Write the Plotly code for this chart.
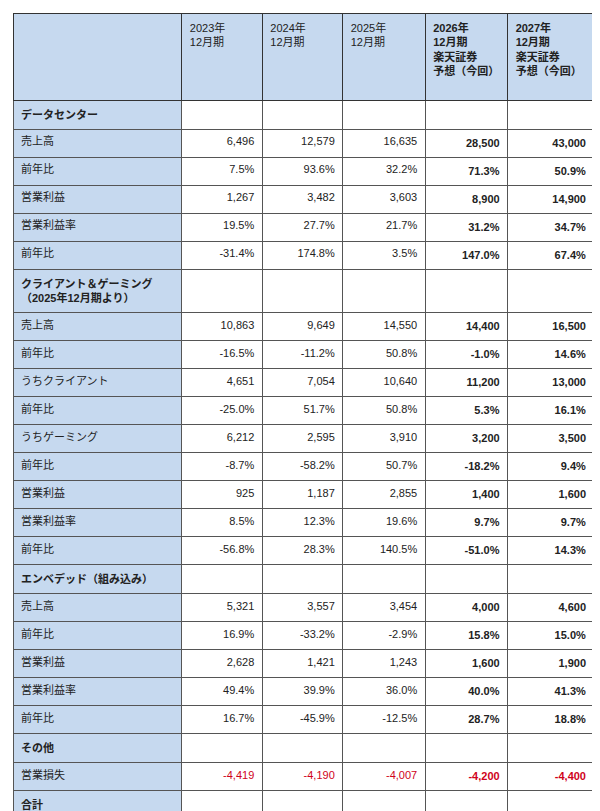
import plotly.graph_objects as go

headers = ["", "2023年<br>12月期", "2024年<br>12月期", "2025年<br>12月期",
           "<b>2026年<br>12月期<br>楽天証券<br>予想（今回）</b>", "<b>2027年<br>12月期<br>楽天証券<br>予想（今回）</b>"]

labels = ["データセンター", "売上高", "前年比", "営業利益", "営業利益率", "前年比",
          "クライアント＆ゲーミング<br>（2025年12月期より）", "売上高", "前年比", "うちクライアント", "前年比",
          "うちゲーミング", "前年比", "営業利益", "営業利益率", "前年比",
          "エンベデッド（組み込み）", "売上高", "前年比", "営業利益", "営業利益率", "前年比",
          "その他", "営業損失",
          "合計", "売上高", "前年比", "営業利益", "営業利益率", "前年比"]
section_rows = [0, 6, 16, 22, 24]

y2023 = ["", "6,496", "7.5%", "1,267", "19.5%", "-31.4%", "", "10,863", "-16.5%", "4,651", "-25.0%", "6,212", "-8.7%",
         "925", "8.5%", "-56.8%", "", "5,321", "16.9%", "2,628", "49.4%", "16.7%", "", "-4,419",
         "", "22,680", "-3.9%", "401", "1.8%", "-68.3%"]
y2024 = ["", "12,579", "93.6%", "3,482", "27.7%", "174.8%", "", "9,649", "-11.2%", "7,054", "51.7%", "2,595", "-58.2%",
         "1,187", "12.3%", "28.3%", "", "3,557", "-33.2%", "1,421", "39.9%", "-45.9%", "", "-4,190",
         "", "25,785", "13.7%", "1,900", "7.4%", "373.8%"]
y2025 = ["", "16,635", "32.2%", "3,603", "21.7%", "3.5%", "", "14,550", "50.8%", "10,640", "50.8%", "3,910", "50.7%",
         "2,855", "19.6%", "140.5%", "", "3,454", "-2.9%", "1,243", "36.0%", "-12.5%", "", "-4,007",
         "", "34,639", "34.3%", "3,694", "10.7%", "94.4%"]
y2026 = ["", "28,500", "71.3%", "8,900", "31.2%", "147.0%", "", "14,400", "-1.0%", "11,200", "5.3%", "3,200", "-18.2%",
         "1,400", "9.7%", "-51.0%", "", "4,000", "15.8%", "1,600", "40.0%", "28.7%", "", "-4,200",
         "", "46,900", "35.4%", "7,700", "16.4%", "108.4%"]
y2027 = ["", "43,000", "50.9%", "14,900", "34.7%", "67.4%", "", "16,500", "14.6%", "13,000", "16.1%", "3,500", "9.4%",
         "1,600", "9.7%", "14.3%", "", "4,600", "15.0%", "1,900", "41.3%", "18.8%", "", "-4,400",
         "", "64,100", "36.7%", "14,000", "21.8%", "81.8%"]

lab_txt = [f"<b>{t}</b>" if i in section_rows else t for i, t in enumerate(labels)]
bold = lambda col: [f"<b>{v}</b>" if v else v for v in col]
loss_row = labels.index("営業損失")
def colors(col):
    return ["#d0021b" if i == loss_row else "#222222" for i in range(len(col))]

FONT = "Liberation Sans, Noto Sans CJK JP"
fig = go.Figure(go.Table(
    columnwidth=[172, 82, 82, 84, 84, 88],
    header=dict(values=headers, fill_color="#c6d9ef", line_color="#333333",
                align="left", font=dict(family=FONT, size=11, color="#222"),
                height=87),
    cells=dict(values=[lab_txt, y2023, y2024, y2025, bold(y2026), bold(y2027)],
               fill_color=[["#c6d9ef"] * len(labels)] + [["white"] * len(labels)] * 5,
               line_color="#555555",
               align=["left", "right", "right", "right", "right", "right"],
               font=dict(family=FONT, size=11,
                         color=[["#222"] * len(labels), colors(y2023), colors(y2024), colors(y2025),
                                colors(y2026), colors(y2027)]),
               height=23),
    domain=dict(x=[0, 1], y=[0, 1])
))
fig.update_layout(width=600, height=811, margin=dict(l=5, r=14, t=5, b=0),
                  paper_bgcolor="white")
fig.write_html("out.html")
